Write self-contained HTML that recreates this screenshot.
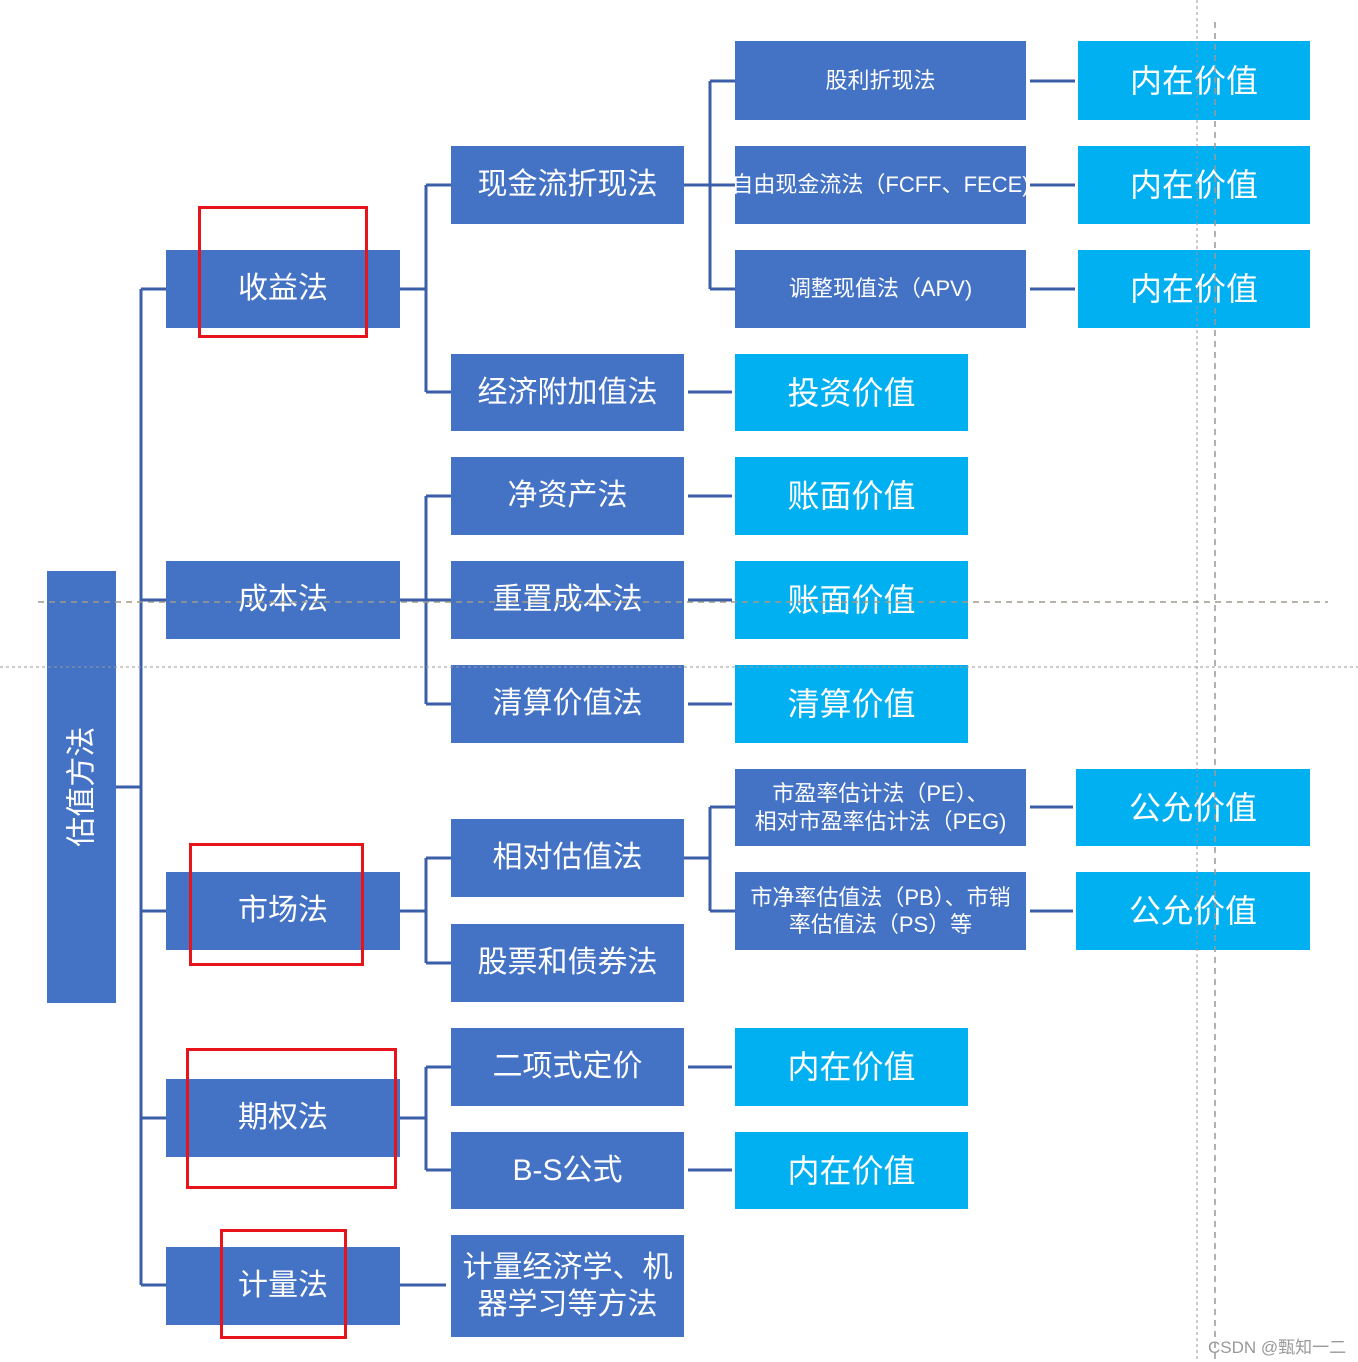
<!DOCTYPE html>
<html><head><meta charset="utf-8"><style>
body{margin:0;width:1358px;height:1362px;background:#fff;position:relative;overflow:hidden;font-family:"Liberation Sans","Noto Sans CJK SC",sans-serif;}
.b{position:absolute;display:flex;align-items:center;justify-content:center;text-align:center;color:#fff;background:#4472c4;box-sizing:border-box;line-height:1.25;}
.l{background:#00b0f0;font-size:32px;}
.f30{font-size:30px;}.f22{font-size:22px;}.f21{font-size:21px;}
.r{position:absolute;border:3px solid #e8141c;box-sizing:border-box;}
svg{position:absolute;left:0;top:0;}
</style></head><body>
<div class="b f30" style="left:47px;top:571px;width:69px;height:432px;"><span style="transform:rotate(-90deg);white-space:nowrap;display:inline-block;">估值方法</span></div>

<div class="b f30" style="left:166px;top:250px;width:234px;height:78px;">收益法</div>
<div class="b f30" style="left:166px;top:561px;width:234px;height:78px;">成本法</div>
<div class="b f30" style="left:166px;top:872px;width:234px;height:78px;">市场法</div>
<div class="b f30" style="left:166px;top:1079px;width:234px;height:78px;">期权法</div>
<div class="b f30" style="left:166px;top:1247px;width:234px;height:78px;">计量法</div>

<div class="b f30" style="left:451px;top:146px;width:233px;height:78px;">现金流折现法</div>
<div class="b f30" style="left:451px;top:354px;width:233px;height:77px;">经济附加值法</div>
<div class="b f30" style="left:451px;top:457px;width:233px;height:78px;">净资产法</div>
<div class="b f30" style="left:451px;top:561px;width:233px;height:78px;">重置成本法</div>
<div class="b f30" style="left:451px;top:665px;width:233px;height:78px;">清算价值法</div>
<div class="b f30" style="left:451px;top:819px;width:233px;height:78px;">相对估值法</div>
<div class="b f30" style="left:451px;top:924px;width:233px;height:78px;">股票和债券法</div>
<div class="b f30" style="left:451px;top:1028px;width:233px;height:78px;">二项式定价</div>
<div class="b f30" style="left:451px;top:1132px;width:233px;height:77px;">B-S公式</div>
<div class="b f30" style="left:451px;top:1235px;width:233px;height:102px;">计量经济学、机<br>器学习等方法</div>

<div class="b f22" style="left:735px;top:41px;width:291px;height:79px;">股利折现法</div>
<div class="b f22" style="left:735px;top:146px;width:291px;height:78px;white-space:nowrap;">自由现金流法（FCFF、FECE)</div>
<div class="b f22" style="left:735px;top:250px;width:291px;height:78px;">调整现值法（APV)</div>
<div class="b f22" style="left:735px;top:769px;width:291px;height:77px;">市盈率估计法（PE）、<br>相对市盈率估计法（PEG)</div>
<div class="b f22" style="left:735px;top:872px;width:291px;height:78px;">市净率估值法（PB）、市销<br>率估值法（PS）等</div>

<div class="b l" style="left:1078px;top:41px;width:232px;height:79px;">内在价值</div>
<div class="b l" style="left:1078px;top:146px;width:232px;height:78px;">内在价值</div>
<div class="b l" style="left:1078px;top:250px;width:232px;height:78px;">内在价值</div>
<div class="b l" style="left:1076px;top:769px;width:234px;height:77px;">公允价值</div>
<div class="b l" style="left:1076px;top:872px;width:234px;height:78px;">公允价值</div>

<div class="b l" style="left:735px;top:354px;width:233px;height:77px;">投资价值</div>
<div class="b l" style="left:735px;top:457px;width:233px;height:78px;">账面价值</div>
<div class="b l" style="left:735px;top:561px;width:233px;height:78px;">账面价值</div>
<div class="b l" style="left:735px;top:665px;width:233px;height:78px;">清算价值</div>
<div class="b l" style="left:735px;top:1028px;width:233px;height:78px;">内在价值</div>
<div class="b l" style="left:735px;top:1132px;width:233px;height:77px;">内在价值</div>

<svg width="1358" height="1362">
<g stroke="#3a5ea8" stroke-width="3" fill="none">
<path d="M116 787H141M141 289V1285M141 289H166M141 600H166M141 911H166M141 1118H166M141 1285H166"/>
<path d="M400 289H426M426 185V392M426 185H451M426 392H451M684 185H710M710 81V289M710 81H735M710 185H735M710 289H735"/>
<path d="M1030 81H1075M1030 185H1075M1030 289H1075M688 392H732"/>
<path d="M400 600H426M426 496V704M426 496H451M426 600H451M426 704H451M688 496H732M688 600H732M688 704H732"/>
<path d="M400 911H426M426 858V963M426 858H451M426 963H451M684 858H710M710 807V911M710 807H735M710 911H735M1030 807H1073M1030 911H1073"/>
<path d="M400 1118H426M426 1067V1170M426 1067H451M426 1170H451M688 1067H732M688 1170H732M400 1285H446"/>
</g>
<g fill="none">
<path d="M38 602H1328" stroke="#a09a8a" stroke-width="1.5" stroke-dasharray="6,5"/>
<path d="M0 667H1358" stroke="#999" stroke-width="1" stroke-dasharray="3,3"/>
<path d="M1197 0V1362" stroke="#999" stroke-width="1" stroke-dasharray="3,3"/>
<path d="M1215 22V1362" stroke="#999" stroke-width="1.5" stroke-dasharray="6,5"/>
</g>
</svg>

<div class="r" style="left:198px;top:206px;width:170px;height:132px;"></div>
<div class="r" style="left:189px;top:843px;width:175px;height:123px;"></div>
<div class="r" style="left:186px;top:1048px;width:211px;height:141px;"></div>
<div class="r" style="left:220px;top:1229px;width:127px;height:110px;"></div>

<div style="position:absolute;left:1208px;top:1333px;font-size:17px;color:#999;">CSDN @甄知一二</div>
</body></html>
